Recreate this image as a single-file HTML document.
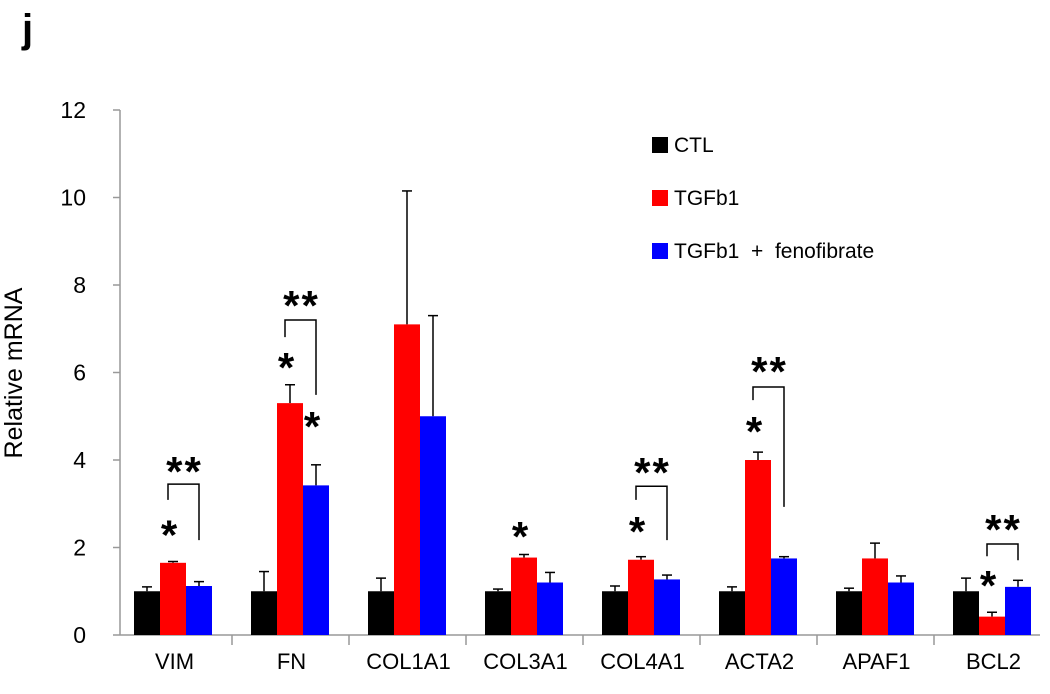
<!DOCTYPE html>
<html><head><meta charset="utf-8"><style>
body{margin:0;background:#fff}
svg text{font-family:"Liberation Sans",sans-serif}
</style></head><body>
<svg id="chart" width="1050" height="689" viewBox="0 0 1050 689">
<text x="22" y="42" font-size="40" font-weight="bold">j</text>
<text transform="translate(22,373) rotate(-90)" text-anchor="middle" font-size="25">Relative mRNA</text>
<g id="plot"></g>
</svg>
<script>
const categories=["VIM","FN","COL1A1","COL3A1","COL4A1","ACTA2","APAF1","BCL2"];
const seriesNames=["CTL","TGFb1","TGFb1 + fenofibrate"];
const ctl=[1,1,1,1,1,1,1,1];
const ctlErr=[0.1,0.45,0.3,0.05,0.12,0.1,0.07,0.3];
const tgf=[1.65,5.3,7.1,1.77,1.72,4.0,1.75,0.42];
const tgfErr=[0.03,0.42,3.05,0.07,0.07,0.18,0.35,0.1];
const feno=[1.12,3.42,5.0,1.2,1.27,1.75,1.2,1.1];
const fenoErr=[0.1,0.47,2.3,0.23,0.1,0.04,0.15,0.15];
const yTicks=[0,2,4,6,8,10,12];
// significance: [category, value, series]
const singleStars=[[0,2.5,1],[1,6.33,1],[1,4.98,2],[3,2.47,1],[4,2.58,1],[5,4.87,1],[7,1.35,1]];
// brackets: [category, top, leftBottom, rightBottom, starsCenter]
const brackets=[[0,3.45,3.09,2.17,3.95],[1,7.2,6.81,5.49,7.75],[4,3.4,3.09,2.17,3.93],[5,5.67,5.37,2.93,6.24],[7,2.08,1.8,1.71,2.63]];

const colors=["#000000","#ff0000","#0000ff"];
const NS="http://www.w3.org/2000/svg";
const g=document.getElementById("plot");
const x0=115,gw=117,bw=26,off=19;
const y=v=>635-v*43.75;
const bx=(c,s)=>x0+c*gw+off+s*bw;
function el(t,a){const e=document.createElementNS(NS,t);for(const k in a)e.setAttribute(k,a[k]);g.appendChild(e);return e;}
let ax=el("line",{x1:120,y1:635,x2:1040,y2:635,stroke:"#999","stroke-width":1.5});


let ay=el("line",{x1:120,y1:y(12),x2:120,y2:635,stroke:"#999","stroke-width":1.5});


yTicks.forEach(t=>{
  el("line",{x1:113,x2:120,y1:y(t),y2:y(t),stroke:"#999","stroke-width":1.5});
  const tx=el("text",{x:86,y:y(t)+8,"text-anchor":"end","font-size":23});tx.textContent=t;
  
  
});
for(let i=1;i<categories.length;i++){
  el("line",{x1:x0+i*gw,x2:x0+i*gw,y1:635,y2:645,stroke:"#999","stroke-width":1.5});
}
categories.forEach((c,i)=>{
  const tx=el("text",{x:x0+i*gw+gw/2+1,y:669,"text-anchor":"middle","font-size":22});tx.textContent=c;
  
  
});
const vals=[ctl,tgf,feno],errs=[ctlErr,tgfErr,fenoErr];
categories.forEach((c,i)=>{
  for(let s=0;s<3;s++){
    const v=vals[s][i],e=errs[s][i],cx=bx(i,s)+bw/2;
    el("line",{x1:cx,x2:cx,y1:y(v),y2:y(v+e),stroke:"#000","stroke-width":1.5});
    el("line",{x1:cx-5,x2:cx+5,y1:y(v+e),y2:y(v+e),stroke:"#000","stroke-width":1.5});
    const r=el("rect",{x:bx(i,s),y:y(v),width:bw,height:y(0)-y(v),fill:colors[s]});
    
    
  }
});
function star(x,c,str){const t=el("text",{x:x,y:y(c)+24,"text-anchor":"middle","font-size":42,"font-weight":"bold","letter-spacing":str.length>1?"2":"0"});t.textContent=str;
  
  }
singleStars.forEach(([c,v,s])=>star(bx(c,s)+bw/2-4,v,"*"));
brackets.forEach(([c,top,lb,rb,sc])=>{
  const l=bx(c,1)+8,r=bx(c,2)+bw/2;
  const p=el("path",{d:`M${l},${y(lb)}V${y(top)}H${r}V${y(rb)}`,fill:"none",stroke:"#000","stroke-width":1.5});
  
  
  star((l+r)/2+1,sc,"**");
});
seriesNames.forEach((n,i)=>{
  const yy=145+i*53;
  const r=el("rect",{x:652,y:yy-8,width:16,height:16,fill:colors[i]});
  
  
  const t=el("text",{x:674,y:yy+7,"font-size":21});t.textContent=n.replace("+","\u00a0+\u00a0");
  
  
});
</script>
</body></html>
